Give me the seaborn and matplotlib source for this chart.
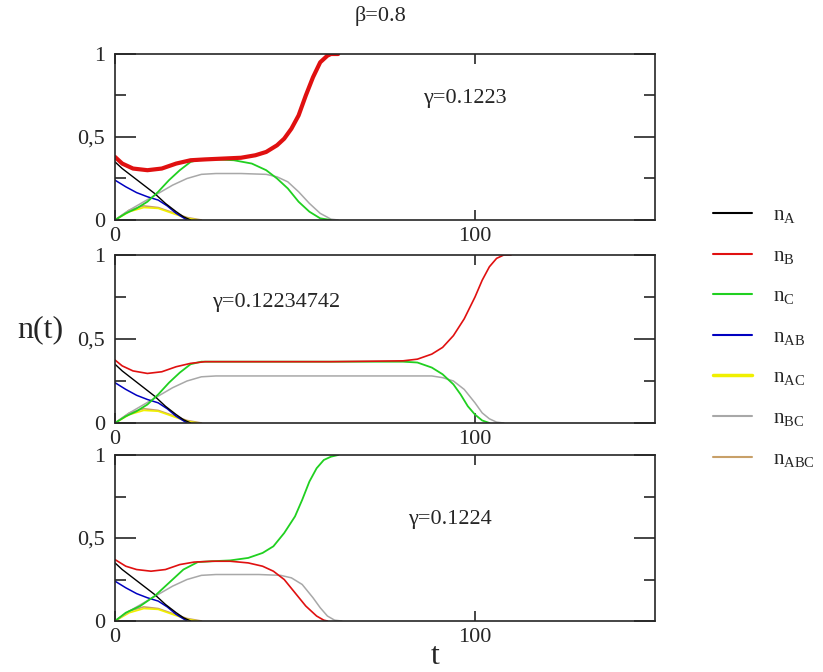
import numpy as np
import pandas as pd
import matplotlib
matplotlib.use("Agg")
import matplotlib.pyplot as plt
from matplotlib.lines import Line2D
from matplotlib.ticker import FixedLocator
import seaborn as sns

# ---------------- data ----------------
# shared early-time species (same in all three panels)
t_A = [0, 2, 5, 8, 11, 14, 17, 19, 21]
n_A = [0.35, 0.31, 0.26, 0.21, 0.16, 0.10, 0.05, 0.02, 0.0]
t_AB = [0, 3, 6, 9, 12, 14.5, 17, 20]
n_AB = [0.24, 0.20, 0.165, 0.14, 0.12, 0.085, 0.04, 0.0]
t_AC = [0, 4, 8, 12, 16, 20, 23]
n_AC = [0.0, 0.05, 0.075, 0.07, 0.04, 0.01, 0.0]
t_ABC = [0, 4, 8, 12, 16, 20, 24]
n_ABC = [0.0, 0.06, 0.085, 0.075, 0.045, 0.015, 0.0]

# panel 1 : gamma = 0.1223
t1_B = [0, 2, 5, 9, 13, 17, 21, 25, 30, 35, 39, 42, 45, 47, 49, 51, 53, 55, 57, 59, 60, 62]
n1_B = [0.38, 0.34, 0.31, 0.30, 0.31, 0.34, 0.36, 0.365, 0.37, 0.375, 0.39, 0.41, 0.45, 0.49,
        0.55, 0.63, 0.75, 0.86, 0.95, 0.99, 1.0, 1.0]
t1_C = [0, 3, 6, 9, 12, 15, 18, 21, 24, 28, 33, 38, 42, 45, 48, 51, 54, 57, 60]
n1_C = [0.0, 0.04, 0.07, 0.11, 0.17, 0.24, 0.30, 0.35, 0.365, 0.365, 0.36, 0.34, 0.30, 0.25,
        0.19, 0.11, 0.05, 0.01, 0.0]
t1_BC = [0, 4, 8, 12, 16, 20, 24, 28, 35, 42, 45, 48, 51, 54, 57, 60, 62]
n1_BC = [0.0, 0.06, 0.11, 0.16, 0.21, 0.25, 0.275, 0.28, 0.28, 0.275, 0.26, 0.23, 0.17, 0.10,
         0.04, 0.005, 0.0]

# panel 2 : gamma = 0.12234742
t2_B = [0, 2, 5, 9, 13, 17, 21, 25, 40, 60, 80, 84, 88, 91, 94, 97, 100, 102, 104, 106, 108, 110]
n2_B = [0.375, 0.34, 0.31, 0.295, 0.305, 0.335, 0.355, 0.365, 0.365, 0.365, 0.37, 0.38, 0.41,
        0.45, 0.52, 0.62, 0.75, 0.85, 0.93, 0.98, 1.0, 1.0]
t2_C = [0, 3, 6, 9, 12, 15, 18, 21, 24, 40, 60, 80, 84, 88, 91, 94, 96, 98, 100, 102, 104]
n2_C = [0.0, 0.04, 0.07, 0.11, 0.17, 0.24, 0.30, 0.35, 0.365, 0.365, 0.365, 0.365, 0.36, 0.33,
        0.29, 0.23, 0.17, 0.10, 0.05, 0.015, 0.0]
t2_BC = [0, 4, 8, 12, 16, 20, 24, 28, 50, 88, 91, 94, 97, 100, 102, 104, 106, 108]
n2_BC = [0.0, 0.06, 0.11, 0.16, 0.21, 0.25, 0.275, 0.28, 0.28, 0.28, 0.27, 0.25, 0.20, 0.12,
         0.06, 0.025, 0.005, 0.0]

# panel 3 : gamma = 0.1224
t3_B = [0, 3, 6, 10, 14, 18, 22, 27, 32, 37, 41, 44, 47, 50, 53, 56, 58, 59]
n3_B = [0.37, 0.33, 0.31, 0.30, 0.31, 0.34, 0.355, 0.36, 0.36, 0.35, 0.33, 0.30, 0.25, 0.17,
        0.09, 0.03, 0.005, 0.0]
t3_C = [0, 3, 7, 11, 15, 19, 23, 27, 32, 37, 41, 44, 47, 50, 52, 54, 56, 58, 60, 62]
n3_C = [0.0, 0.05, 0.09, 0.15, 0.23, 0.31, 0.355, 0.36, 0.365, 0.38, 0.41, 0.45, 0.53, 0.63,
        0.73, 0.84, 0.92, 0.97, 0.99, 1.0]
t3_BC = [0, 4, 8, 12, 16, 20, 24, 28, 40, 46, 49, 52, 55, 57, 59, 61, 63]
n3_BC = [0.0, 0.06, 0.11, 0.16, 0.21, 0.25, 0.275, 0.28, 0.28, 0.275, 0.26, 0.22, 0.14, 0.08,
         0.03, 0.005, 0.0]

gammas = ["γ=0.1223", "γ=0.12234742", "γ=0.1224"]
gamma_pos = [(85.5, 0.73), (27, 0.72), (81.5, 0.61)]
labels = [r"n$_{\mathrm{A}}$", r"n$_{\mathrm{B}}$", r"n$_{\mathrm{C}}$", r"n$_{\mathrm{AB}}$",
          r"n$_{\mathrm{AC}}$", r"n$_{\mathrm{BC}}$", r"n$_{\mathrm{ABC}}$"]
x_ticks = [0, 100]
y_ticks = [0, 0.5, 1]
y_ticklabels = ["0", "0,5", "1"]

# ---------------- style ----------------
sns.set_theme(style="ticks")
plt.rcParams["font.family"] = ["Liberation Serif", "DejaVu Serif"]
plt.rcParams["mathtext.fontset"] = "custom"
plt.rcParams["mathtext.rm"] = "Liberation Serif"

colors = {"A": "#000000", "B": "#e01010", "C": "#20d020", "AB": "#0000c0",
          "AC": "#f0f000", "BC": "#a8a8a8", "ABC": "#c8a068"}

fig = plt.figure(figsize=(8.23, 6.72), dpi=100)
W = 823.0
H = 672.0
boxes = [(54, 220), (255, 423), (455, 621)]
panels = [
    (t1_B, n1_B, t1_C, n1_C, t1_BC, n1_BC, 3.0),
    (t2_B, n2_B, t2_C, n2_C, t2_BC, n2_BC, 1.2),
    (t3_B, n3_B, t3_C, n3_C, t3_BC, n3_BC, 1.2),
]

for i, ((top, bot), (tB, nB, tC, nC, tBC, nBC, lwB)) in enumerate(zip(boxes, panels)):
    ax = fig.add_axes([115 / W, 1 - bot / H, (655 - 115) / W, (bot - top) / H])
    sns.lineplot(x=t_ABC, y=n_ABC, ax=ax, color=colors["ABC"], lw=1.2)
    sns.lineplot(x=t_AC, y=n_AC, ax=ax, color=colors["AC"], lw=1.2)
    sns.lineplot(x=tBC, y=nBC, ax=ax, color=colors["BC"], lw=1.1)
    sns.lineplot(x=t_AB, y=n_AB, ax=ax, color=colors["AB"], lw=1.1)
    sns.lineplot(x=t_A, y=n_A, ax=ax, color=colors["A"], lw=1.0)
    sns.lineplot(x=tC, y=nC, ax=ax, color=colors["C"], lw=1.3)
    sns.lineplot(x=tB, y=nB, ax=ax, color=colors["B"], lw=lwB)
    ax.set_xlim(0, 150)
    ax.set_ylim(0, 1)
    ax.set_xticks(x_ticks)
    ax.set_xticklabels([str(v) for v in x_ticks])
    ax.set_yticks(y_ticks)
    ax.set_yticklabels(y_ticklabels)
    ax.yaxis.set_minor_locator(FixedLocator([0.25, 0.75]))
    ax.tick_params(axis="both", which="major", direction="in", length=7, width=1.2,
                   top=True, right=True, labelsize=16)
    ax.tick_params(axis="x", which="major", pad=5)
    ax.tick_params(axis="y", which="major", length=15, pad=7)
    ax.tick_params(axis="y", which="minor", direction="in", length=8, width=1.2,
                   left=True, right=True)
    for s in ax.spines.values():
        s.set_linewidth(1.2)
    ax.set_xlabel("")
    ax.set_ylabel("")
    gx, gy = gamma_pos[i]
    ax.text(gx, gy, gammas[i], fontsize=16, ha="left", va="center")

fig.text(380 / W, 1 - 16 / H, "β=0.8", fontsize=16, ha="center", va="center")
fig.text(40 / W, 1 - 330 / H, "n(t)", fontsize=23, ha="center", va="center")
fig.text(435 / W, 1 - 657 / H, "t", fontsize=23, ha="center", va="center")

handles = [Line2D([0], [0], color=colors[k], lw=1.5 if k != "AC" else 2.5)
           for k in ["A", "B", "C", "AB", "AC", "BC", "ABC"]]
fig.legend(handles, labels, loc="upper left", bbox_to_anchor=(694 / W, 1 - 187 / H),
           frameon=False, fontsize=15, handlelength=1.9, labelspacing=0.98, handletextpad=1.0)

fig.savefig("out.png", dpi=100)
